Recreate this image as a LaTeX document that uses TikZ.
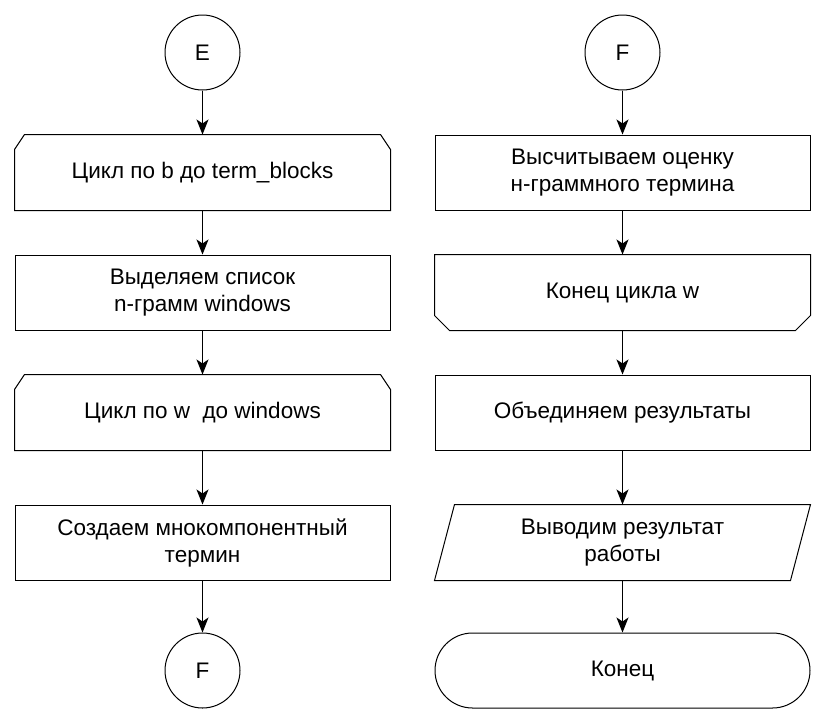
\documentclass[tikz,border=0pt]{standalone}
\usepackage{fontspec}
\setmainfont{Liberation Sans}
\usepackage{tikz}
\usetikzlibrary{arrows.meta,positioning,calc}

\tikzset{
  blk/.style={rectangle, minimum width=375pt, minimum height=75pt, inner sep=0pt,
    align=center, font=\fontsize{22.5}{27}\selectfont},
  proc/.style={blk, draw},
  loopbox/.style={blk},
  term/.style={blk, draw, rounded corners=37.5pt},
  conn/.style={circle, draw, minimum size=75pt, inner sep=0pt, font=\fontsize{22.5}{27}\selectfont},
  flow/.style={-{Stealth[length=15pt,width=12pt,inset=4pt]}},
}

\begin{document}
\begin{tikzpicture}[x=1pt,y=1pt,yscale=-1,xscale=1,line width=1pt]
	\useasboundingbox (0,0) rectangle (825,724);

	% Left column
	\node [conn] (E) at (202.5,52.5) {E};
	\node [loopbox] (lpb) at (202.5,172.5) {Цикл по b до term\_blocks};
	\node [proc] (win) at (202.5,292.5) {Выделяем список\\ n-грамм windows};
	\node [loopbox] (lpw) at (202.5,412.5) {Цикл по w\ \ до windows};
	\node [proc] (mkterm) at (202.5,542.5) {Создаем мнокомпонентный\\термин};
	\node [conn] (Fout) at (202.5,670.5) {F};

	% Right column
	\node [conn] (Fin) at (622.5,52.5) {F};
	\node [proc] (score) at (622.5,172.5) {Высчитываем оценку\\ н-граммного термина};
	\node [loopbox] (lpend) at (622.5,292.5) {Конец цикла w};
	\node [proc] (merge) at (622.5,412.5) {Объединяем результаты};
	\node [blk] (out) at (622.5,542.5) {Выводим результат\\работы};
	\node [term] (stop) at (622.5,670.5) {Конец};

	%Shape: Loop start (chamfered top)
	\foreach \n in {lpb,lpw}
	  \draw ([yshift=15pt]\n.north west) -- ([xshift=10pt]\n.north west) -- ([xshift=-10pt]\n.north east)
	    -- ([yshift=15pt]\n.north east) -- (\n.south east) -- (\n.south west) -- cycle;
	%Shape: Loop end (chamfered bottom)
	\draw (lpend.north west) -- (lpend.north east) -- ([yshift=-15pt]lpend.south east)
	    -- ([xshift=-15pt]lpend.south east) -- ([xshift=15pt]lpend.south west) -- ([yshift=-15pt]lpend.south west) -- cycle;
	%Shape: Data (parallelogram)
	\draw ([xshift=20pt]out.north west) -- (out.north east) -- ([xshift=-20pt]out.south east) -- (out.south west) -- cycle;

	%Straight Lines
	\draw [flow] (E) -- (lpb);
	\draw [flow] (lpb) -- (win);
	\draw [flow] (win) -- (lpw);
	\draw [flow] (lpw) -- (mkterm);
	\draw [flow] (mkterm) -- (Fout);
	\draw [flow] (Fin) -- (score);
	\draw [flow] (score) -- (lpend);
	\draw [flow] (lpend) -- (merge);
	\draw [flow] (merge) -- (out);
	\draw [flow] (out) -- (stop);
\end{tikzpicture}
\end{document}
